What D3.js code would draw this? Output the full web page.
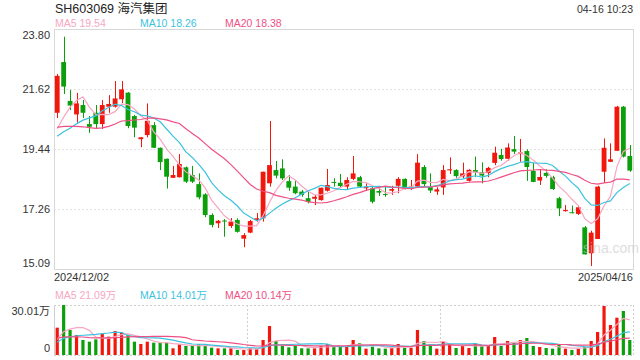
<!DOCTYPE html>
<html>
<head>
<meta charset="utf-8">
<script src="https://cdn.jsdelivr.net/npm/d3@7"></script>
<style>
  body { margin: 0; background: #fff; }
  svg { display: block; font-family: "Liberation Sans", Arial, "Noto Sans CJK SC", sans-serif; }
</style>
</head>
<body>
<svg id="kline" width="640" height="360"></svg>
<script>
// 日K数据 2024/12/02 - 2025/04/16
const titleText = "SH603069 海汽集团";
const timeText = "04-16 10:23";
const dateLabels = ["2024/12/02", "2025/04/16"];
const priceTicks = [23.80, 21.62, 19.44, 17.26, 15.09];
const volTicks = [0, 30.01];

const open = [20.76,22.60,21.19,20.70,21.04,20.35,20.76,20.35,20.98,20.98,
  21.25,21.49,20.64,19.80,19.95,20.31,19.49,19.09,18.40,18.42,
  18.78,18.50,18.17,17.80,17.05,16.75,16.85,16.65,16.87,16.19,
  16.41,16.87,16.93,18.20,18.68,18.74,18.28,18.08,17.90,17.66,
  17.64,17.59,17.93,18.25,18.22,18.08,18.36,18.42,18.02,18.02,
  17.92,17.81,17.93,18.11,18.36,18.02,18.08,18.79,18.06,17.90,
  18.05,18.67,18.68,18.45,18.29,18.68,18.60,18.57,18.94,19.23,
  19.09,19.44,19.26,19.37,18.65,18.30,18.58,18.42,17.66,17.19,
  17.15,17.09,16.60,15.66,16.18,18.62,18.98,19.38,20.98,19.19];
const high = [22.17,23.52,21.59,21.48,21.22,20.64,21.04,21.22,21.40,21.91,
  21.91,21.51,20.68,19.88,21.10,20.42,19.50,19.10,18.83,19.26,
  18.81,18.83,18.56,17.84,17.11,16.87,16.90,16.94,16.93,16.39,
  16.87,17.12,18.62,20.46,19.01,19.07,18.50,18.29,17.96,17.93,
  17.78,18.04,18.72,18.38,18.54,18.42,19.19,18.47,18.20,18.08,
  18.08,18.08,18.11,18.42,18.38,18.32,19.26,18.86,18.56,18.06,
  18.86,19.14,18.71,18.95,18.71,19.17,18.96,18.80,19.53,19.45,
  19.65,19.92,19.81,19.43,18.95,18.71,18.71,18.47,17.71,17.41,
  17.39,17.41,16.65,16.48,18.11,19.83,19.65,21.01,21.01,19.59];
const low = [20.57,21.44,20.86,20.40,20.57,20.03,20.17,20.17,20.76,20.95,
  21.11,20.20,19.87,19.51,19.87,19.48,18.68,18.01,18.39,18.41,
  18.21,18.21,17.62,16.97,16.60,16.58,16.26,16.58,16.41,15.88,
  16.39,16.81,16.81,18.08,18.38,18.32,17.93,17.80,17.71,17.47,
  17.41,17.57,17.90,18.08,18.06,17.96,18.32,18.06,17.93,17.47,
  17.74,17.71,17.78,17.84,17.98,17.96,18.03,18.10,17.85,17.78,
  17.78,18.54,18.40,18.39,18.26,18.43,18.20,18.42,18.86,19.02,
  19.02,19.26,18.98,18.29,18.24,18.14,18.40,17.96,17.01,17.17,
  17.11,17.05,15.62,15.20,16.18,18.22,18.97,19.37,19.14,18.62];
const close = [22.10,21.71,21.02,21.10,20.76,20.25,20.35,21.04,21.08,21.28,
  21.61,20.28,20.22,19.87,20.47,19.49,18.97,18.44,18.50,18.90,
  18.26,18.26,17.69,17.05,16.69,16.84,16.83,16.81,16.44,16.32,
  16.83,16.93,18.62,18.86,18.48,18.38,18.04,17.84,17.78,17.53,
  17.71,18.04,18.14,18.22,18.10,18.32,18.56,18.08,18.06,17.53,
  17.86,17.78,17.99,18.36,18.02,18.08,18.95,18.17,17.94,17.98,
  18.68,18.71,18.46,18.56,18.69,18.60,18.48,18.76,19.31,19.08,
  19.50,19.35,19.32,18.79,18.25,18.43,18.47,17.99,17.29,17.23,
  17.12,17.33,15.62,16.41,18.08,19.49,19.07,20.98,19.17,18.66];
// 成交量（万手）
const volume = [16.4,30.01,15.0,12.0,9.0,8.0,9.4,12.6,11.0,14.4,
  13.6,12.0,8.0,6.6,8.0,7.4,7.4,7.4,4.0,6.4,
  5.4,5.4,6.4,5.4,4.4,4.0,4.0,4.0,3.0,3.0,
  4.0,3.8,9.0,17.4,8.4,5.4,4.6,5.8,4.0,4.0,
  4.0,5.4,6.6,5.0,5.0,5.0,9.0,7.0,3.8,5.0,
  4.0,3.8,4.4,6.6,4.4,4.4,15.0,8.4,6.0,3.8,
  8.0,6.6,4.2,5.6,4.2,7.0,5.4,5.6,10.8,5.4,
  8.4,7.4,9.0,10.2,5.4,4.8,4.2,3.8,6.0,3.8,
  3.0,3.8,4.8,8.4,13.8,29.4,18.0,22.4,26.4,9.0];
// 窗口之前的19个交易日（用于均线起点）
const priorCloses = [20.9,21.0,21.2,21.0,20.8,20.9,20.7,20.0,19.6,19.4,
  20.0,19.8,19.5,19.4,19.45,19.6,19.2,19.9,20.09];
const priorVolumes = [12,14,13,11,15,12,13,11,12,11,
  6.0,5.5,6.2,5.8,5.5,7.0,7.5,7.5,8.6];

const maPeriods = [5, 10, 20];
const maColors = ["#f8a6c1", "#3cc2df", "#ee5185"];
const priceMaLabels = ["19.54", "18.26", "18.38"];
const volMaLabels = ["21.09", "14.01", "10.14"];

const RED = "#f2170c", GREEN = "#0c9f0c";

const svg = d3.select("#kline");
const left = 54, right = 633;
const main = { top: 29, bottom: 269 };
const vol = { top: 305, bottom: 355 };
const n = close.length;

const xScale = d3.scaleBand().domain(d3.range(n)).range([left, right])
  .paddingInner(0.25).paddingOuter(0.125);
const cx = i => xScale(i) + xScale.bandwidth() / 2;
const yScale = d3.scaleLinear().domain([15.09, 23.80]).range([main.bottom, main.top]);
const vScale = d3.scaleLinear().domain([0, 30.01]).range([vol.bottom, vol.top]);

function movingAvg(prior, values, p) {
  const all = prior.concat(values);
  const off = prior.length;
  return values.map((v, i) => d3.mean(all.slice(off + i - p + 1, off + i + 1)));
}

const up = i => close[i] >= open[i];
const color = i => up(i) ? RED : GREEN;

// 标题
svg.append("text").attr("x", 55).attr("y", 13).attr("font-size", 12.5).attr("fill", "#222").text(titleText);
svg.append("text").attr("x", right).attr("y", 13).attr("text-anchor", "end")
  .attr("font-size", 10.5).attr("fill", "#333").text(timeText);

// 均线图例
const legendX = [55, 140, 225];
maPeriods.forEach((p, k) => {
  svg.append("text").attr("x", legendX[k]).attr("y", 27).attr("font-size", 10.5)
    .attr("fill", maColors[k]).text(`MA${p} ${priceMaLabels[k]}`);
  svg.append("text").attr("x", legendX[k]).attr("y", 299).attr("font-size", 10.5)
    .attr("fill", maColors[k]).text(`MA${p} ${volMaLabels[k]}万`);
});

// 网格
const grid = svg.append("g");
priceTicks.slice(1, -1).forEach(t => {
  grid.append("line").attr("x1", left).attr("x2", right)
    .attr("y1", Math.round(yScale(t)) + 0.5).attr("y2", Math.round(yScale(t)) + 0.5)
    .attr("stroke", "#e2e2e2").attr("stroke-dasharray", "2,2");
});
grid.append("rect").attr("x", left + 0.5).attr("y", main.top + 0.5)
  .attr("width", right - left).attr("height", main.bottom - main.top)
  .attr("fill", "none").attr("stroke", "#d8d8d8");

// 价格刻度
priceTicks.forEach((t, i) => {
  let y = yScale(t) + 4;
  if (i === 0) y = main.top + 10;
  if (i === priceTicks.length - 1) y = main.bottom - 2;
  svg.append("text").attr("x", 50).attr("y", y).attr("text-anchor", "end")
    .attr("font-size", 11).attr("fill", "#333").text(t.toFixed(2));
});

// 日期
svg.append("text").attr("x", left).attr("y", 281).attr("font-size", 11).attr("fill", "#333").text(dateLabels[0]);
svg.append("text").attr("x", right).attr("y", 281).attr("text-anchor", "end")
  .attr("font-size", 11).attr("fill", "#333").text(dateLabels[1]);

// K线
const candles = svg.append("g").selectAll("g").data(d3.range(n)).join("g");
candles.append("line")
  .attr("x1", i => Math.round(cx(i)) + 0.5).attr("x2", i => Math.round(cx(i)) + 0.5)
  .attr("y1", i => yScale(high[i])).attr("y2", i => yScale(low[i]))
  .attr("stroke", color).attr("stroke-width", 1);
candles.append("rect")
  .attr("x", i => xScale(i)).attr("width", xScale.bandwidth())
  .attr("y", i => yScale(Math.max(open[i], close[i])))
  .attr("height", i => Math.max(1, Math.abs(yScale(open[i]) - yScale(close[i]))))
  .attr("fill", color);

// 价格均线
maPeriods.forEach((p, k) => {
  const ma = movingAvg(priorCloses, close, p);
  svg.append("path").datum(ma)
    .attr("d", d3.line().x((d, i) => cx(i)).y(d => yScale(d)))
    .attr("fill", "none").attr("stroke", maColors[k]).attr("stroke-width", 1.2);
});

// 水印
svg.append("text").attr("x", 583).attr("y", 253).attr("font-size", 14)
  .attr("fill", "#c8c8c8").attr("opacity", 0.6).text("sina.com");

// 成交量面板
const vg = svg.append("g");
[vol.top, vol.bottom].forEach(y => {
  vg.append("line").attr("x1", left).attr("x2", right).attr("y1", y + 0.5).attr("y2", y + 0.5)
    .attr("stroke", "#d0d0d0").attr("stroke-dasharray", "2,2");
});
[left + (right - left) / 3, left + 2 * (right - left) / 3, right].forEach(x => {
  vg.append("line").attr("x1", Math.round(x) + 0.5).attr("x2", Math.round(x) + 0.5)
    .attr("y1", vol.top).attr("y2", vol.bottom)
    .attr("stroke", "#d0d0d0").attr("stroke-dasharray", "2,2");
});
vg.append("line").attr("x1", left + 0.5).attr("x2", left + 0.5).attr("y1", vol.top).attr("y2", vol.bottom)
  .attr("stroke", "#cfcfcf");

vg.append("text").attr("x", 50).attr("y", 315).attr("text-anchor", "end")
  .attr("font-size", 11).attr("fill", "#333").text(volTicks[1].toFixed(2) + "万");
vg.append("text").attr("x", 50).attr("y", 352).attr("text-anchor", "end")
  .attr("font-size", 11).attr("fill", "#333").text(volTicks[0]);

const barW = 3.2;
vg.selectAll("rect.vbar").data(d3.range(n)).join("rect").attr("class", "vbar")
  .attr("x", i => cx(i) - barW / 2).attr("width", barW)
  .attr("y", i => vScale(volume[i])).attr("height", i => vol.bottom - vScale(volume[i]))
  .attr("fill", color);

maPeriods.forEach((p, k) => {
  const ma = movingAvg(priorVolumes, volume, p);
  vg.append("path").datum(ma)
    .attr("d", d3.line().x((d, i) => cx(i)).y(d => vScale(d)))
    .attr("fill", "none").attr("stroke", maColors[k]).attr("stroke-width", 1.2);
});
</script>
</body>
</html>
